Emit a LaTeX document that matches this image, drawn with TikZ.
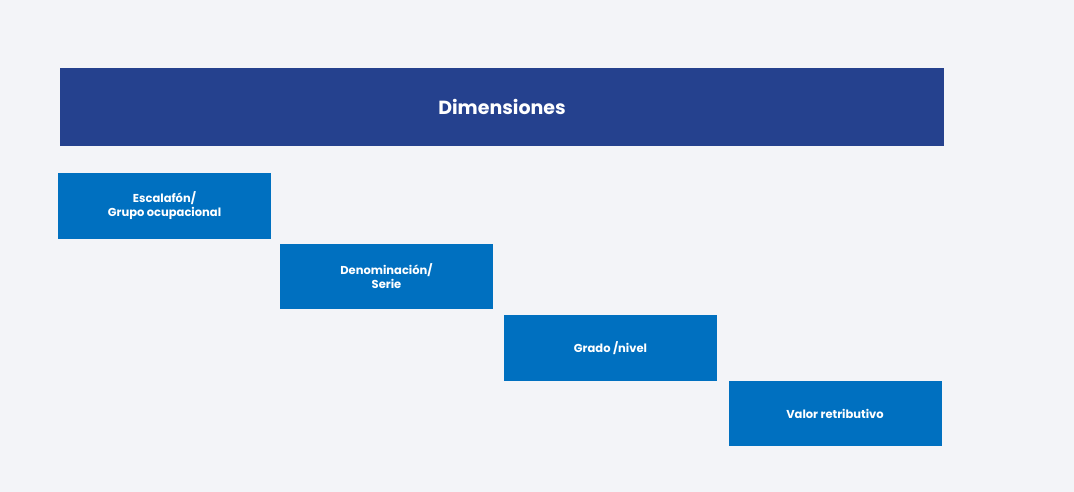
\documentclass[tikz,border=0pt]{standalone}
\usepackage{fontspec}
\setmainfont{Poppins}
\definecolor{bg}{HTML}{F3F4F8}
\definecolor{head}{HTML}{25418E}
\definecolor{boxc}{HTML}{0070C0}
\tikzset{
  stepbox/.style={fill=boxc, text=white, font=\bfseries\fontsize{11.5}{14}\selectfont, align=center, inner sep=0pt, minimum width=213pt, minimum height=65pt},
}
\begin{document}
\begin{tikzpicture}[x=1pt,y=-1pt]
\fill[bg] (0,0) rectangle (1074,492);
\useasboundingbox (0,0) rectangle (1074,492);
\node[fill=head, text=white, font=\bfseries\fontsize{19}{22}\selectfont, minimum width=884pt, minimum height=78pt, inner sep=0pt] (h) at (502,107) {Dimensiones};
\node[stepbox] (a) at (164.5,206) {Escalafón/\\Grupo ocupacional};
\node[stepbox] (b) at (386.5,276.5) {Denominación/\\Serie};
\node[stepbox, minimum height=66pt] (c) at (610.5,348) {Grado /nivel};
\node[stepbox] (d) at (835,413.5) {Valor retributivo};
\end{tikzpicture}
\end{document}
